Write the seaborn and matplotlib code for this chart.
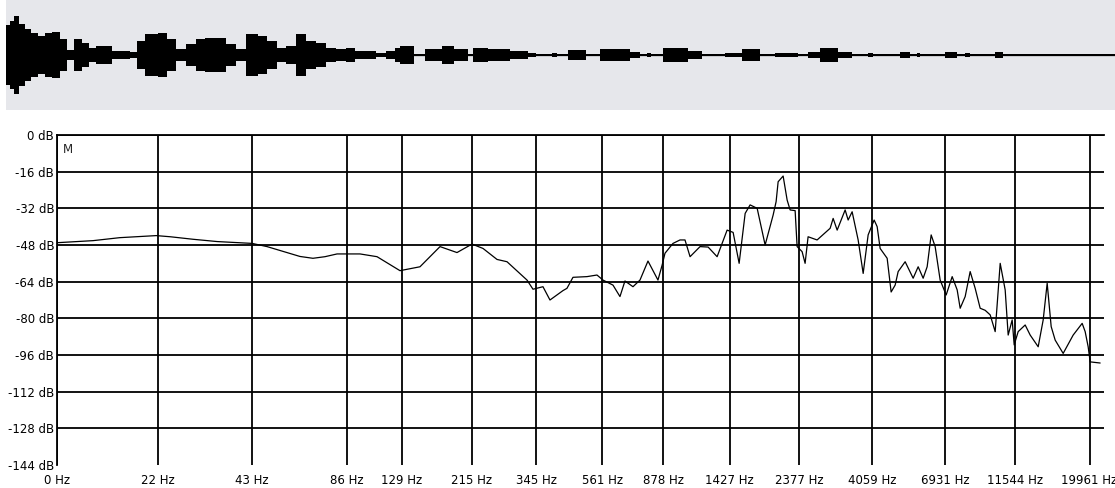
import numpy as np
import pandas as pd
import seaborn as sns
import matplotlib
matplotlib.use("Agg")
import matplotlib.pyplot as plt
from matplotlib.ticker import NullLocator

sns.set_theme(style="white")
plt.rcParams["font.family"] = ["DejaVu Sans"]

# waveform envelope: segment start times (s) and peak amplitude (full scale = 1)
wave_t = [0.00, 0.04, 0.08, 0.13, 0.19, 0.25, 0.32, 0.39, 0.46, 0.54,
          0.61, 0.68, 0.76, 0.83, 0.90, 1.06, 1.24, 1.31, 1.39, 1.52,
          1.61, 1.70, 1.80, 1.90, 1.99, 2.20, 2.30, 2.40, 2.52, 2.61,
          2.71, 2.80, 2.90, 3.00, 3.10, 3.20, 3.30, 3.40, 3.49, 3.70,
          3.80, 3.89, 3.94, 4.08, 4.19, 4.36, 4.48, 4.62, 4.67, 4.82,
          5.04, 5.22, 5.30, 5.46, 5.51, 5.62, 5.80, 5.94, 6.24, 6.34,
          6.41, 6.45, 6.57, 6.82, 6.96, 7.19, 7.36, 7.54, 7.69, 7.82,
          7.84, 7.92, 8.02, 8.14, 8.32, 8.46, 8.62, 8.67, 8.94, 9.04,
          9.11, 9.14, 9.39, 9.51, 9.59, 9.64, 9.89, 9.97]
wave_amp = [0.55, 0.62, 0.71, 0.56, 0.47, 0.40, 0.35, 0.40, 0.42, 0.29,
            0.09, 0.29, 0.22, 0.13, 0.16, 0.07, 0.05, 0.25, 0.38, 0.40,
            0.29, 0.11, 0.20, 0.29, 0.31, 0.20, 0.11, 0.38, 0.35, 0.25,
            0.13, 0.16, 0.38, 0.25, 0.22, 0.13, 0.11, 0.13, 0.07, 0.045,
            0.07, 0.13, 0.16, 0.013, 0.11, 0.16, 0.11, 0.02, 0.13, 0.11,
            0.07, 0.04, 0.013, 0.045, 0.013, 0.09, 0.013, 0.11, 0.055, 0.013,
            0.035, 0.013, 0.12, 0.07, 0.013, 0.045, 0.11, 0.013, 0.045, 0.03,
            0.045, 0.013, 0.055, 0.12, 0.055, 0.013, 0.035, 0.013, 0.055, 0.013,
            0.035, 0.013, 0.055, 0.013, 0.035, 0.013, 0.055, 0.013]
wave_end = 11.09

# spectrum
spec_freq = [10.29, 13.4, 16.3, 21.3, 23.6, 27.9, 33.3, 43.0, 48.0, 61.1,
             67.2, 73.4, 80.2, 94.9, 107.5, 127.2, 147.3, 170.6, 193.2, 215.7,
             233.8, 259.1, 278.8, 322.8, 337.3, 362.9, 382.0, 420.2, 432.7, 452.2,
             501.1, 539.2, 563.4, 606.3, 638.2, 662.0, 702.1, 739.1, 783.7, 843.2,
             868.5, 887.8, 941.5, 991.0, 1028, 1067, 1148, 1218, 1301, 1400,
             1463, 1529, 1598, 1657, 1745, 1850, 1962, 2005, 2035, 2111,
             2174, 2222, 2305, 2339, 2426, 2480, 2535, 2708, 2980, 3046,
             3137, 3326, 3400, 3501, 3659, 3796, 3937, 4114, 4206, 4299,
             4526, 4660, 4799, 4906, 5164, 5476, 5681, 5893, 6068, 6249,
             6435, 6675, 6976, 7290, 7562, 7730, 8019, 8318, 8629, 8951,
             9286, 9633, 9992, 10366, 10752, 10991, 11318, 11486, 11827, 12450,
             12915, 13696, 14207, 14629, 15065, 15513, 16449, 17701, 18907, 19327,
             19757, 20049, 21574]
spec_db = [-47.0, -46.1, -44.8, -43.9, -44.4, -45.5, -46.5, -47.3, -48.7, -53.0,
           -53.8, -53.1, -51.9, -51.9, -53.1, -59.2, -57.5, -48.7, -51.3, -47.6,
           -49.5, -54.3, -55.3, -63.3, -67.3, -66.2, -72.0, -67.9, -66.9, -62.1,
           -61.8, -61.1, -63.3, -65.5, -70.5, -63.7, -66.2, -63.3, -55.0, -63.3,
           -57.0, -51.6, -47.3, -45.8, -45.8, -53.1, -48.7, -48.9, -53.1, -41.5,
           -42.5, -56.0, -34.2, -30.5, -32.0, -48.0, -34.9, -29.1, -20.4, -17.9,
           -28.4, -32.7, -33.0, -48.7, -50.9, -56.0, -44.4, -45.8, -40.7, -36.4,
           -41.5, -32.7, -37.1, -33.5, -45.8, -60.4, -43.6, -37.1, -40.0, -49.5,
           -53.8, -68.5, -65.5, -59.6, -55.3, -62.5, -57.5, -62.5, -57.5, -43.6,
           -48.7, -63.3, -69.8, -61.8, -67.6, -75.6, -70.5, -59.6, -66.9, -75.6,
           -76.5, -78.5, -85.8, -56.0, -67.6, -87.3, -80.7, -91.6, -85.8, -82.9,
           -87.3, -92.4, -80.7, -64.7, -83.6, -89.5, -95.3, -87.3, -82.2, -85.8,
           -92.4, -99.0, -99.5]

freq_ticks = [10.29, 21.5, 43, 86, 129, 215, 345, 561, 878, 1427, 2377, 4059,
              6931, 11544, 19961]
freq_labels = ["0 Hz", "22 Hz", "43 Hz", "86 Hz", "129 Hz", "215 Hz", "345 Hz",
               "561 Hz", "878 Hz", "1427 Hz", "2377 Hz", "4059 Hz", "6931 Hz",
               "11544 Hz", "19961 Hz"]
db_ticks = [0, -16, -32, -48, -64, -80, -96, -112, -128, -144]
db_labels = [f"{d} dB" for d in db_ticks]

fig = plt.figure(figsize=(11.15, 4.88), dpi=100)

# waveform overview
ax_w = fig.add_axes([6 / 1115, 378 / 488, 1109 / 1115, 110 / 488])
ax_w.set_facecolor("#e6e7eb")
t = np.array(wave_t + [wave_end])
a = np.array(wave_amp + [wave_amp[-1]])
ax_w.fill_between(t, -a, a, step="post", color="black", lw=0)
ax_w.axhline(0, color="black", lw=0.9)
ax_w.set_xlim(0, wave_end)
ax_w.set_ylim(-1, 1)
ax_w.set_xticks([])
ax_w.set_yticks([])
for s in ax_w.spines.values():
    s.set_visible(False)

# spectrum
ax = fig.add_axes([57 / 1115, 23 / 488, 1047 / 1115, 330 / 488])
ax.set_facecolor("white")
df = pd.DataFrame({"freq": spec_freq, "db": spec_db})
sns.lineplot(data=df, x="freq", y="db", color="black", lw=0.9,
             estimator=None, sort=False, ax=ax, zorder=3)
ax.set_xscale("log")
ax.set_xlim(10.29, 22190)
ax.set_ylim(-144, 0)
ax.set_xticks(freq_ticks, freq_labels)
ax.xaxis.set_minor_locator(NullLocator())
ax.set_yticks(db_ticks, db_labels)
ax.set_xlabel("")
ax.set_ylabel("")
ax.grid(True, color="black", lw=1.3)
for tk in ax.yaxis.get_major_ticks():
    if tk.get_loc() == -144:
        tk.gridline.set_visible(False)
for side in ["right", "bottom"]:
    ax.spines[side].set_visible(False)
for side in ["left", "top"]:
    ax.spines[side].set_color("black")
    ax.spines[side].set_linewidth(1.3)
ax.tick_params(axis="both", length=0, labelsize=8.5, colors="black")
ax.tick_params(axis="y", pad=2)
ax.tick_params(axis="x", pad=6.5)
ax.annotate("M", xy=(0, 1), xycoords="axes fraction", xytext=(4, -6),
            textcoords="offset points", ha="left", va="top", fontsize=8.5)

fig.savefig("out.png", dpi=100)
